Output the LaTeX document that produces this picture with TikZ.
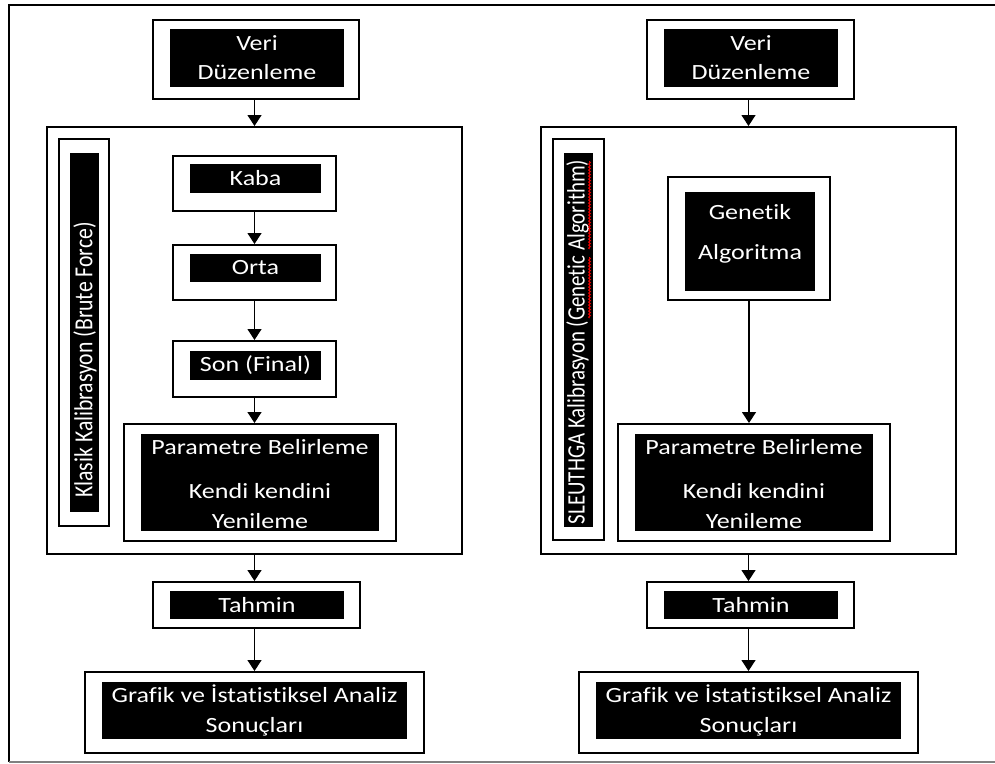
\documentclass[tikz,border=0pt]{standalone}
\usepackage{fontspec}
\setmainfont{Carlito}[FakeStretch=1.2, Ligatures={NoCommon}]
\newfontfamily\sidefont{Carlito}[Ligatures={NoCommon}]
\usetikzlibrary{arrows.meta,decorations.pathmorphing}

\begin{document}
\begin{tikzpicture}[x=1pt,y=-1pt,
  frame/.style={draw, line width=2pt, fill=white, inner sep=0pt},
  blk/.style={fill=black, text=white, inner sep=0pt, align=center,
              font=\fontsize{21.7}{29}\selectfont},
  txt/.style={text=white, inner sep=0pt, align=center,
              font=\fontsize{21.7}{29}\selectfont},
  sidetxt/.style={text=white, inner sep=0pt, rotate=90},
  flow/.style={-{Triangle[width=14pt,length=11pt]}, line width=1.3pt},
  squiggle/.style={red, line width=0.9pt, decorate,
                   decoration={snake, amplitude=0.9pt, segment length=3pt}}
]
\useasboundingbox (0,0) rectangle (995,763);

% page frame (open on the right)
\draw[line width=2pt] (995,5) -- (9,5) -- (9,762);
\draw[gray, line width=1.5pt] (9,762) -- (995,762);

% ---------------- left: classic (brute force) calibration ----------------
\node[frame, minimum width=206, minimum height=79] (veriLO) at (256,59.5) {};
\node[blk, minimum width=174, minimum height=58] (veriL) at (257,58) {Veri\\Düzenleme};

\node[frame, minimum width=415, minimum height=427] (contL) at (254.5,340.5) {};

\node[frame, minimum width=50, minimum height=387] (sideLO) at (84,332.5) {};
\node[blk, minimum width=29, minimum height=359] (sideL) at (84.5,332.5) {};
\node[sidetxt, anchor=west, font=\sidefont\fontsize{21.7}{26}\selectfont] (sideLT) at (85,498)
  {\scalebox{1}[1.2]{Klasik Kalibrasyon (Brute Force)}};

\node[frame, minimum width=163, minimum height=55] (kabaO) at (254.5,183.5) {};
\node[blk, minimum width=131, minimum height=29] (kaba) at (255.5,178.5) {Kaba};

\node[frame, minimum width=163, minimum height=55] (ortaO) at (254.5,272.5) {};
\node[blk, minimum width=131, minimum height=28] (orta) at (255.5,268) {Orta};

\node[frame, minimum width=163, minimum height=56] (sonO) at (254.5,369) {};
\node[blk, minimum width=131, minimum height=29] (son) at (255.5,365.5) {Son (Final)};

\node[frame, minimum width=272, minimum height=117] (parLO) at (260,482.5) {};
\node[blk, minimum width=238, minimum height=97] (parL) at (260,482.5) {};
\node[txt, font=\fontsize{21.7}{30}\selectfont] (parLT) at (260,484)
  {Parametre Belirleme\\[14pt]Kendi kendini\\Yenileme};

\node[frame, minimum width=207, minimum height=46] (tahLO) at (256.5,605) {};
\node[blk, minimum width=174, minimum height=28] (tahL) at (257,605) {Tahmin};

\node[frame, minimum width=339, minimum height=81] (grafLO) at (254.5,712.5) {};
\node[blk, minimum width=305, minimum height=57, font=\fontsize{21.7}{30}\selectfont] (grafL) at (254.5,710.5)
  {Grafik ve İstatistiksel Analiz\\Sonuçları};

\draw[flow] (contL.north |- veriLO.south) -- (contL.north);
\draw[flow] (kabaO.south) -- (kabaO.south |- ortaO.north);
\draw[flow] (ortaO.south) -- (ortaO.south |- sonO.north);
\draw[flow] (sonO.south) -- (sonO.south |- parLO.north);
\draw[flow] (contL.south) -- (contL.south |- tahLO.north);
\draw[flow] (grafLO.north |- tahLO.south) -- (grafLO.north);

% ---------------- right: SLEUTHGA (genetic algorithm) calibration ----------------
\node[frame, minimum width=207, minimum height=79] (veriRO) at (750.5,59.5) {};
\node[blk, minimum width=174, minimum height=58] (veriR) at (751,58) {Veri\\Düzenleme};

\node[frame, minimum width=415, minimum height=427] (contR) at (748.5,340.5) {};

\node[frame, minimum width=51, minimum height=401] (sideRO) at (578.5,339.5) {};
\node[blk, minimum width=29, minimum height=374] (sideR) at (578.5,340) {};
\node[sidetxt, font=\sidefont\fontsize{20.9}{26}\selectfont] (sideRT) at (577.5,342)
  {\scalebox{1}[1.2]{SLEUTHGA Kalibrasyon (Genetic Algorithm)}};
\draw[squiggle] (589.5,318) -- (589.5,257);
\draw[squiggle] (589.5,249) -- (589.5,161);

\node[frame, minimum width=162, minimum height=123] (genO) at (749,238.5) {};
\node[blk, minimum width=130, minimum height=99] (gen) at (750,241.5) {};
\node[txt] (genT) at (750,234) {Genetik\\[11pt]Algoritma};

\node[frame, minimum width=272, minimum height=117] (parRO) at (754,482.5) {};
\node[blk, minimum width=238, minimum height=97] (parR) at (754,482.5) {};
\node[txt, font=\fontsize{21.7}{30}\selectfont] (parRT) at (754,484)
  {Parametre Belirleme\\[14pt]Kendi kendini\\Yenileme};

\node[frame, minimum width=207, minimum height=46] (tahRO) at (750.5,605) {};
\node[blk, minimum width=174, minimum height=28] (tahR) at (751,605) {Tahmin};

\node[frame, minimum width=339, minimum height=81] (grafRO) at (748.5,712.5) {};
\node[blk, minimum width=305, minimum height=57, font=\fontsize{21.7}{30}\selectfont] (grafR) at (748.5,710.5)
  {Grafik ve İstatistiksel Analiz\\Sonuçları};

\draw[flow] (contR.north |- veriRO.south) -- (contR.north);
\draw[flow] (genO.south) -- (genO.south |- parRO.north);
\draw[flow] (contR.south) -- (contR.south |- tahRO.north);
\draw[flow] (grafRO.north |- tahRO.south) -- (grafRO.north);
\end{tikzpicture}
\end{document}
